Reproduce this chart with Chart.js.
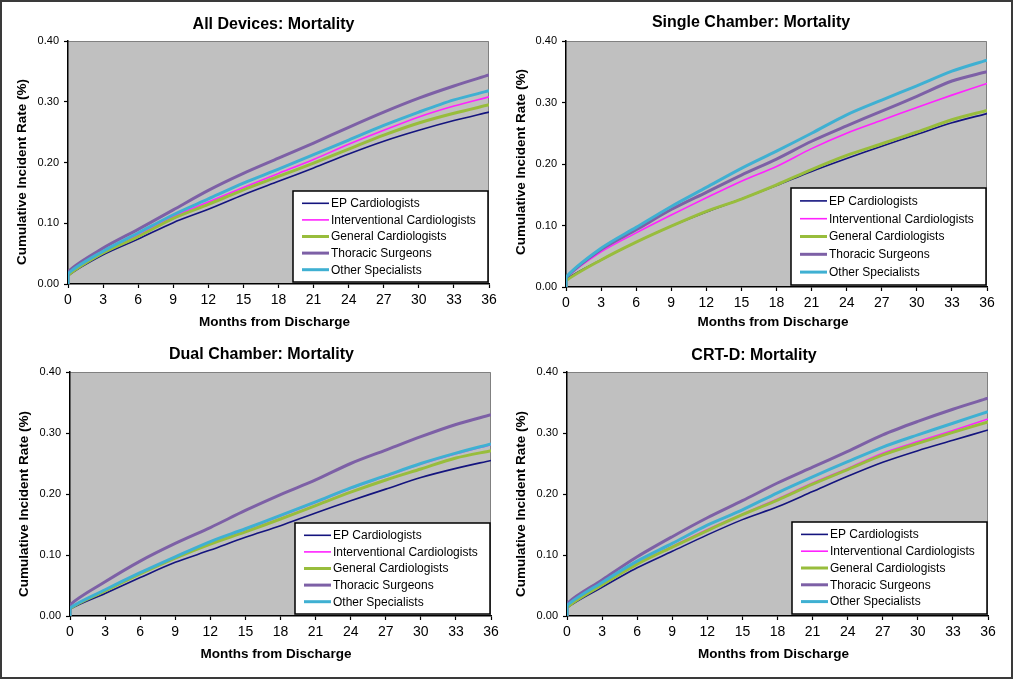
<!DOCTYPE html>
<html>
<head>
<meta charset="utf-8">
<script src="https://cdn.jsdelivr.net/npm/chart.js@4.4.1/dist/chart.umd.min.js"></script>
<style>
  html, body { margin: 0; padding: 0; background: #fff; }
  #wrap { position: relative; width: 1013px; height: 679px; background: #fff; overflow: hidden; }
  #frame { position: absolute; left: 0; top: 0; width: 1013px; height: 679px; box-sizing: border-box; border: 2px solid #3a3a3a; pointer-events: none; z-index: 5; }
  canvas { position: absolute; }
</style>
</head>
<body>
<div id="wrap">
  <canvas id="c1" width="506" height="340" style="left:0;top:0"></canvas>
  <canvas id="c2" width="507" height="340" style="left:506px;top:0"></canvas>
  <canvas id="c3" width="506" height="339" style="left:0;top:340px"></canvas>
  <canvas id="c4" width="507" height="339" style="left:506px;top:340px"></canvas>
  <div id="frame"></div>
</div>
<script>
// ---------- DATA ----------
const months = [0, 3, 6, 9, 12, 15, 18, 21, 24, 27, 30, 33, 36];
const seriesNames = ["EP Cardiologists", "Interventional Cardiologists", "General Cardiologists", "Thoracic Surgeons", "Other Specialists"];
const panelTitles = ["All Devices: Mortality", "Single Chamber: Mortality", "Dual Chamber: Mortality", "CRT-D: Mortality"];
const xAxisTitle = "Months from Discharge";
const yAxisTitle = "Cumulative Incident Rate (%)";
const yTicks = [0, 0.1, 0.2, 0.3, 0.4];
const xTicks = [0, 3, 6, 9, 12, 15, 18, 21, 24, 27, 30, 33, 36];
const startValue = 0;

// All Devices
const allEP      = [0.013, 0.048, 0.074, 0.101, 0.123, 0.147, 0.169, 0.191, 0.214, 0.235, 0.253, 0.269, 0.283];
const allInterv  = [0.014, 0.053, 0.081, 0.111, 0.135, 0.159, 0.182, 0.205, 0.230, 0.253, 0.275, 0.293, 0.308];
const allGeneral = [0.014, 0.051, 0.078, 0.108, 0.131, 0.155, 0.177, 0.199, 0.222, 0.245, 0.265, 0.281, 0.295];
const allThoracic= [0.020, 0.059, 0.090, 0.122, 0.154, 0.182, 0.207, 0.232, 0.258, 0.283, 0.306, 0.326, 0.344];
const allOther   = [0.017, 0.054, 0.084, 0.114, 0.140, 0.166, 0.189, 0.213, 0.237, 0.261, 0.283, 0.303, 0.318];

// Single Chamber
const singleEP      = [0.012, 0.044, 0.073, 0.099, 0.122, 0.143, 0.165, 0.188, 0.209, 0.229, 0.248, 0.267, 0.282];
const singleInterv  = [0.014, 0.057, 0.088, 0.117, 0.145, 0.172, 0.196, 0.225, 0.250, 0.271, 0.292, 0.312, 0.331];
const singleGeneral = [0.010, 0.044, 0.073, 0.099, 0.123, 0.143, 0.166, 0.191, 0.214, 0.233, 0.252, 0.272, 0.287];
const singleThoracic= [0.015, 0.061, 0.093, 0.126, 0.154, 0.182, 0.208, 0.237, 0.262, 0.286, 0.310, 0.335, 0.350];
const singleOther   = [0.016, 0.063, 0.097, 0.131, 0.162, 0.193, 0.221, 0.250, 0.280, 0.304, 0.327, 0.351, 0.369];

// Dual Chamber
const dualEP      = [0.011, 0.037, 0.063, 0.088, 0.108, 0.129, 0.148, 0.169, 0.189, 0.208, 0.227, 0.242, 0.255];
const dualInterv  = [0.012, 0.042, 0.070, 0.096, 0.121, 0.142, 0.164, 0.186, 0.209, 0.229, 0.249, 0.266, 0.281];
const dualGeneral = [0.012, 0.041, 0.069, 0.095, 0.118, 0.138, 0.159, 0.181, 0.203, 0.223, 0.241, 0.259, 0.271];
const dualThoracic= [0.018, 0.056, 0.090, 0.119, 0.145, 0.173, 0.199, 0.223, 0.250, 0.272, 0.294, 0.314, 0.330];
const dualOther   = [0.013, 0.043, 0.071, 0.097, 0.122, 0.143, 0.165, 0.187, 0.210, 0.230, 0.250, 0.267, 0.282];

// CRT-D
const crtEP      = [0.013, 0.047, 0.079, 0.106, 0.133, 0.158, 0.179, 0.204, 0.229, 0.252, 0.271, 0.288, 0.305];
const crtInterv  = [0.014, 0.053, 0.086, 0.114, 0.142, 0.167, 0.192, 0.218, 0.242, 0.267, 0.286, 0.304, 0.323];
const crtGeneral = [0.014, 0.051, 0.085, 0.113, 0.140, 0.166, 0.190, 0.216, 0.240, 0.264, 0.283, 0.301, 0.318];
const crtThoracic= [0.020, 0.059, 0.097, 0.130, 0.161, 0.189, 0.218, 0.244, 0.270, 0.297, 0.319, 0.339, 0.357];
const crtOther   = [0.017, 0.055, 0.090, 0.119, 0.149, 0.174, 0.202, 0.228, 0.253, 0.277, 0.297, 0.316, 0.335];

const panelSeries = [
  [allEP, allInterv, allGeneral, allThoracic, allOther],
  [singleEP, singleInterv, singleGeneral, singleThoracic, singleOther],
  [dualEP, dualInterv, dualGeneral, dualThoracic, dualOther],
  [crtEP, crtInterv, crtGeneral, crtThoracic, crtOther]
];

// ---------- STYLE ----------
const seriesColors = ["#14147e", "#ff22ff", "#98bd3c", "#7d60a6", "#3fb0d2"];
const seriesWidths = [1.6, 1.6, 3, 3, 3];
const FONT = "Arial, 'Liberation Sans', Helvetica, sans-serif";

// canvas-local layout per panel
const layouts = [
  { left: 68, right: 17, top: 41, bottom: 26, titleX: 273.5, titleY: 25, yTitleX: 22, yTitleY: 172, xTitleX: 274.5, xTitleY: 322, legH: 91 },
  { left: 60, right: 26, top: 41, bottom: 23, titleX: 245, titleY: 23, yTitleX: 15.5, yTitleY: 162, xTitleX: 267, xTitleY: 322, legH: 97 },
  { left: 70, right: 15, top: 32, bottom: 33, titleX: 261.5, titleY: 15, yTitleX: 24, yTitleY: 164, xTitleX: 276, xTitleY: 314, legH: 91 },
  { left: 61, right: 25, top: 32, bottom: 33, titleX: 248, titleY: 16, yTitleX: 15, yTitleY: 164, xTitleX: 267.5, xTitleY: 314, legH: 92 }
];

const decorPlugin = {
  id: 'decor',
  beforeDraw(chart, args, opts) {
    const {ctx, chartArea: a} = chart;
    ctx.save();
    ctx.fillStyle = '#c0c0c0';
    ctx.fillRect(a.left, a.top, a.right - a.left, a.bottom - a.top);
    ctx.strokeStyle = '#808080';
    ctx.lineWidth = 1;
    ctx.beginPath();
    ctx.moveTo(a.left, a.top + 0.5);
    ctx.lineTo(a.right - 0.5, a.top + 0.5);
    ctx.lineTo(a.right - 0.5, a.bottom);
    ctx.stroke();
    ctx.restore();
  },
  afterDraw(chart, args, opts) {
    const {ctx, chartArea: a} = chart;
    const L = opts.layout;
    ctx.save();
    ctx.fillStyle = '#000';
    // panel title
    ctx.font = 'bold 16px ' + FONT;
    ctx.textAlign = 'center';
    ctx.textBaseline = 'middle';
    ctx.fillText(opts.title, L.titleX, L.titleY);
    // x axis title
    ctx.font = 'bold 13.5px ' + FONT;
    ctx.fillText(xAxisTitle, L.xTitleX, L.xTitleY);
    // y axis title
    ctx.save();
    ctx.translate(L.yTitleX, L.yTitleY);
    ctx.rotate(-Math.PI / 2);
    ctx.fillText(yAxisTitle, 0, 0);
    ctx.restore();
    // legend
    const w = 195, h = L.legH;
    const x0 = a.right - 1 - w, y0 = a.bottom - 2 - h;
    ctx.fillStyle = '#fff';
    ctx.fillRect(x0, y0, w, h);
    ctx.strokeStyle = '#000';
    ctx.lineWidth = 1.5;
    ctx.strokeRect(x0, y0, w, h);
    const step = (h - 8) / 5;
    ctx.font = '12px ' + FONT;
    ctx.textAlign = 'left';
    seriesNames.forEach((name, i) => {
      const cy = y0 + 4 + step * (i + 0.5);
      ctx.strokeStyle = seriesColors[i];
      ctx.lineWidth = seriesWidths[i];
      ctx.beginPath();
      ctx.moveTo(x0 + 9, cy);
      ctx.lineTo(x0 + 36, cy);
      ctx.stroke();
      ctx.fillStyle = '#000';
      ctx.fillText(name, x0 + 38, cy + 0.5);
    });
    ctx.restore();
  }
};

function makeChart(id, p) {
  const L = layouts[p];
  const datasets = seriesNames.map((name, i) => ({
    label: name,
    data: [{x: months[0], y: startValue}].concat(months.map((m, k) => ({x: m, y: panelSeries[p][i][k]}))),
    borderColor: seriesColors[i],
    borderWidth: seriesWidths[i],
    pointRadius: 0,
    tension: 0.3,
    fill: false,
    order: 5 - i
  }));
  return new Chart(document.getElementById(id), {
    type: 'line',
    data: { datasets },
    plugins: [decorPlugin],
    options: {
      responsive: false,
      animation: false,
      devicePixelRatio: 1,
      layout: { padding: { left: 0, right: L.right, top: L.top, bottom: L.bottom } },
      plugins: {
        legend: { display: false },
        tooltip: { enabled: false },
        title: { display: false },
        decor: { title: panelTitles[p], layout: L }
      },
      scales: {
        x: {
          type: 'linear', min: 0, max: 36,
          afterBuildTicks: s => { s.ticks = xTicks.map(v => ({value: v})); },
          afterFit: s => { s.height = 30; },
          ticks: { color: '#000', font: { family: FONT, size: 14 }, padding: 4, maxRotation: 0, autoSkip: false,
                   callback: v => String(v) },
          grid: { drawOnChartArea: false, drawTicks: true, tickLength: 4, tickColor: '#000', tickWidth: 1.2 },
          border: { display: true, color: '#000', width: 1.5 }
        },
        y: {
          type: 'linear', min: 0, max: 0.4,
          afterBuildTicks: s => { s.ticks = yTicks.map(v => ({value: v})); },
          afterFit: s => { s.width = L.left; },
          ticks: { color: '#000', font: { family: FONT, size: 11 }, padding: 5,
                   callback: v => Number(v).toFixed(2) },
          grid: { drawOnChartArea: false, drawTicks: true, tickLength: 4, tickColor: '#000', tickWidth: 1.2 },
          border: { display: true, color: '#000', width: 1.5 }
        }
      }
    }
  });
}

makeChart('c1', 0);
makeChart('c2', 1);
makeChart('c3', 2);
makeChart('c4', 3);
</script>
</body>
</html>
